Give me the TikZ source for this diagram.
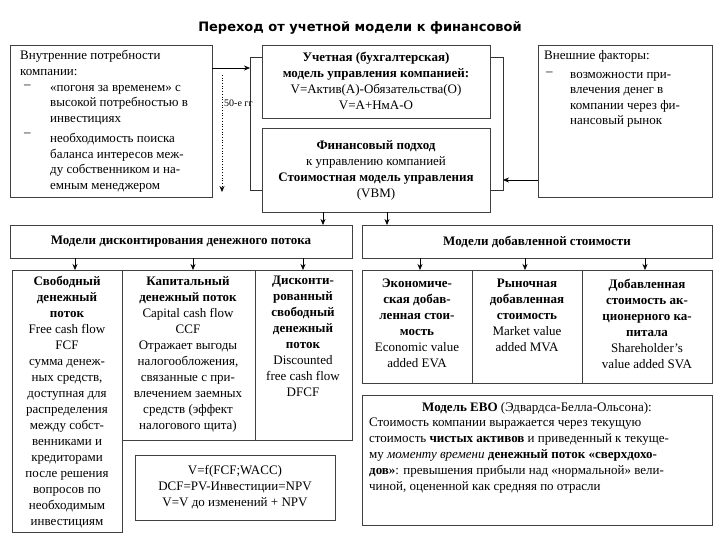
\documentclass[tikz,border=0pt]{standalone}
\usepackage{fontspec}
\setmainfont{Liberation Serif}
\newfontfamily\titlefont{DejaVu Sans}
\usetikzlibrary{arrows.meta}
\begin{document}
\begin{tikzpicture}[x=1pt,y=-1pt,
  bx/.style={draw=black!75,line width=0.9pt},
  txt/.style={align=center,font=\fontsize{13}{16}\selectfont,inner sep=0pt},
  tl/.style={align=left,anchor=north west,font=\fontsize{13}{15.5}\selectfont,inner sep=0pt},
  ar/.style={-{Stealth[length=6pt,width=5pt]},line width=0.6pt},
  lk/.style={line width=0.9pt,black!80}]
\useasboundingbox[fill=white] (0,0) rectangle (720,540);
\node[font=\titlefont\bfseries\fontsize{13}{15}\selectfont] (title) at (360,28) {Переход от учетной модели к финансовой};
% top row
\draw[bx] (10,45) rectangle (212,197);
\node[tl] (inner) at (20,50) {Внутренние потребности\\компании:};
\node[tl] (d1) at (24,85) {–};
\node[tl] (i1) at (50,85) {«погоня за временем» с\\высокой потребностью в\\инвестициях};
\node[tl] (d2) at (24,133) {–};
\node[tl] (i2) at (50,133) {необходимость поиска\\баланса интересов меж-\\ду собственником и на-\\емным менеджером};
\coordinate (lb) at (212,68);
\draw[bx] (262,45) rectangle (490,118);
\node[txt] (acc) at (376,81) {\textbf{Учетная (бухгалтерская)}\\\textbf{модель управления компанией:}\\V=Актив(А)-Обязательства(О)\\V=А+НмА-О};
\draw[bx] (262,128) rectangle (490,212);
\node[txt] (fin) at (376,170) {\textbf{Финансовый подход}\\к управлению компанией\\\textbf{Стоимостная модель управления}\\(VBM)};
\draw[bx] (538,45) rectangle (712,197);
\node[tl] (ext) at (544,50) {Внешние факторы:};
\node[tl] (d3) at (546,72) {–};
\node[tl] (e1) at (570,72) {возможности при-\\влечения денег в\\компании через фи-\\нансовый рынок};
% brackets
\coordinate (bl) at (250,68);
\draw[lk] (262,57) -| (250,190) -- (262,190);
\draw[lk] (490,57) -| (503,190) -- (490,190);
\draw[ar] (lb) -- (bl);
\draw[ar] (538,180) -- (503,180);
\coordinate (dt) at (222,75); \coordinate (db) at (222,192);
\draw[dotted,line width=0.7pt,-{Stealth[length=6pt,width=5pt]}] (dt) -- (db);
\node[txt,font=\fontsize{10}{11}\selectfont,anchor=west] (yr) at (224,103) {50-е гг};
% headers
\draw[bx] (10,225) rectangle (352,258);
\node[txt] (hl) at (181,242) {\textbf{Модели дисконтирования денежного потока}};
\draw[bx] (362,225) rectangle (712,258);
\node[txt] (hr) at (537,242) {\textbf{Модели добавленной стоимости}};
\draw[ar] (323,212) -- (323,225);
\draw[ar] (387,212) -- (387,225);
% left three
\draw[bx] (12,270) rectangle (122,532);
\draw[bx] (122,270) rectangle (255,440);
\draw[bx] (255,270) rectangle (352,440);
\draw[ar] (75,258) -- (75,270);
\draw[ar] (193,258) -- (193,270);
\draw[ar] (303,258) -- (303,270);
\node[txt,anchor=north] (c1) at (67,276) {\textbf{Свободный}\\\textbf{денежный}\\\textbf{поток}\\Free cash flow\\FCF\\сумма денеж-\\ных средств,\\доступная для\\распределения\\между собст-\\венниками и\\кредиторами\\после решения\\вопросов по\\необходимым\\инвестициям};
\node[txt,anchor=north] (c2) at (188,276) {\textbf{Капитальный}\\\textbf{денежный поток}\\Capital cash flow\\CCF\\Отражает выгоды\\налогообложения,\\связанные с при-\\влечением заемных\\средств (эффект\\налогового щита)};
\node[txt,anchor=north] (c3) at (303,276) {\textbf{Дисконти-}\\\textbf{рованный}\\\textbf{свободный}\\\textbf{денежный}\\\textbf{поток}\\Discounted\\free cash flow\\DFCF};
\draw[bx] (135,455) rectangle (335,520);
\node[txt] (form) at (235,487) {V=f(FCF;WACC)\\DCF=PV-Инвестиции=NPV\\V=V до изменений + NPV};
% right three
\draw[bx] (362,270) rectangle (472,383);
\draw[bx] (472,270) rectangle (582,383);
\draw[bx] (582,270) rectangle (712,383);
\draw[ar] (420,258) -- (420,270);
\draw[ar] (525,258) -- (525,270);
\draw[ar] (645,258) -- (645,270);
\node[txt,anchor=north] (r1) at (417,279) {\textbf{Экономиче-}\\\textbf{ская добав-}\\\textbf{ленная стои-}\\\textbf{мость}\\Economic value\\added EVA};
\node[txt,anchor=north] (r2) at (527,279) {\textbf{Рыночная}\\\textbf{добавленная}\\\textbf{стоимость}\\Market value\\added MVA};
\node[txt,anchor=north] (r3) at (647,279) {\textbf{Добавленная}\\\textbf{стоимость ак-}\\\textbf{ционерного ка-}\\\textbf{питала}\\Shareholder’s\\value added SVA};
\draw[bx] (362,395) rectangle (712,525);
\node[txt,anchor=north] (ebo1) at (537,402) {\textbf{Модель EBO} (Эдвардса-Белла-Ольсона):};
\node[txt,align=left,anchor=north west] (ebo2) at (369,418) {Стоимость компании выражается через текущую\\стоимость \textbf{чистых активов} и приведенный к текуще-\\му \textit{моменту времени} \textbf{денежный поток «сверхдохо-}\\\textbf{дов»}: превышения прибыли над «нормальной» вели-\\чиной, оцененной как средняя по отрасли};
\end{tikzpicture}
\end{document}
